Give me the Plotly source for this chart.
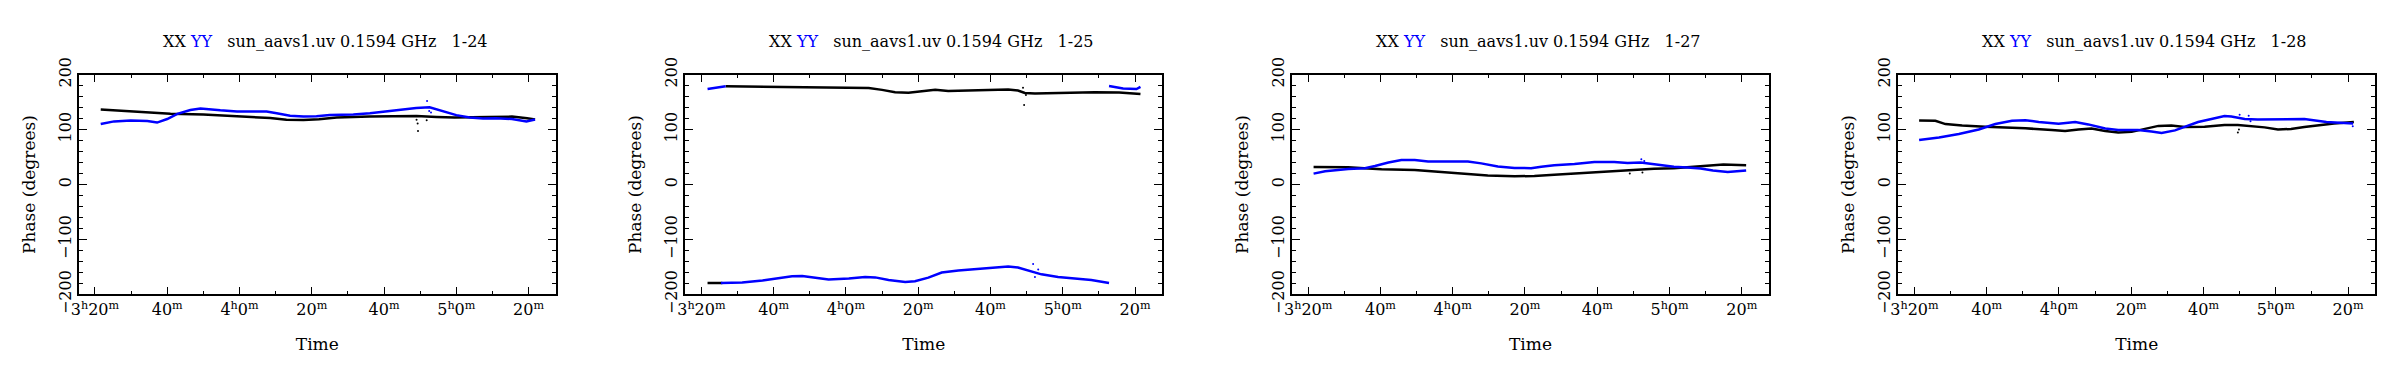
import plotly.graph_objects as go
from plotly.subplots import make_subplots

# time in minutes since 0h, phase in degrees
baselines = ["1-24", "1-25", "1-27", "1-28"]

# ---- 1-24
t24_xx = [201.6, 210, 220.9, 230, 239.3, 248.5, 253, 257.7, 262, 266.9, 276, 285.3, 289, 294.5, 299.5, 309, 315.4, 319.6, 321.8]
p24_xx = [136.7, 133, 129, 127.4, 124.7, 120.9, 118, 117.6, 118.7, 122, 124, 125.2, 124.5, 123, 122, 123, 123.6, 120.4, 118.2]
t24_yy = [201.6, 205.3, 209.9, 214.5, 217.2, 220, 222.8, 226.4, 229.2, 232, 234.7, 239.3, 244.8, 247.5, 250.3, 254, 257.7,
          261.3, 265, 271.5, 276.1, 280.7, 285.3, 288.9, 292.6, 296.3, 300, 303.7, 307.4, 311, 315.4, 319.4, 321.8]
p24_yy = [110, 114.9, 116.5, 115.4, 112.7, 119.2, 128.5, 135.6, 138.3, 137.3, 135, 132.9, 133.4, 132.9, 129.6, 125.2, 123.6,
          124.2, 126.3, 127.4, 129.6, 132.9, 136.2, 139.4, 140.5, 134, 126.3, 122, 120.3, 120.5, 119.2, 114.8, 118.2]
o24_xx_t = [289.4, 289, 289.3, 291.8]
o24_xx_p = [97.4, 118, 111, 117]
o24_yy_t = [291.9, 292.5, 293]
o24_yy_p = [152, 134, 131]

# ---- 1-25 (phase wraps at +/-180)
t25_xx = [201.7, 205.8, None, 206.7, 220.5, 229.7, 238.9, 246.3, 250, 253.6, 257.3, 261, 264.7, 268.3, 273.9, 279.4, 284.9,
          287.6, 289.5, 292.3, 298.7, 302.9, 308.8, 315.6, 321.5]
p25_xx = [-179.3, -179.3, None, 178.7, 177.6, 176.5, 176.5, 175.5, 172.2, 167.8, 167.2, 169.4, 172.2, 170, 171.1, 172.7, 172.7,
          171.1, 166.7, 165.6, 166.7, 167.3, 167.8, 167.3, 164.5]
t25_yy = [201.7, 204, 206.7, None, 205.4, 211.3, 216.9, 220.5, 225.1, 227.9, 231.6, 235.2, 240.8, 245.3, 248.1, 251.8, 256.4,
          259.1, 262.8, 266.5, 271.1, 275.7, 280.3, 284.9, 287.6, 290.4, 294.1, 298.7, 303.3, 307.9, 312.8, None,
          312.8, 316.7, 320.4, 321.5]
p25_yy = [173.8, 176, 178.7, None, -179.3, -178.2, -174.4, -171.1, -166.7, -166.2, -168.9, -172.7, -171.1, -168.3, -168.9,
          -173.8, -177.1, -176, -169.4, -160.2, -156.3, -153.6, -150.9, -149.3, -150.9, -156.3, -163.4, -168.3, -171.1,
          -173.8, -179.3, None, 179.3, 174.9, 173.8, 177.6]
o25_xx_t = [289.3, 289, 289.8]
o25_xx_p = [144.9, 176, 163]
o25_yy_t = [291.8, 293.2, 292.3]
o25_yy_p = [-144.4, -154.7, -168.3]

# ---- 1-27
t27_xx = [201.5, 211.1, 216.6, 220.3, 229.5, 238.7, 244.2, 249.7, 257.1, 262.6, 268.1, 273.7, 279.2, 284.7, 290.2, 295.7,
          301.2, 306.8, 314.9, 321.2]
p27_xx = [31.9, 31.4, 29.2, 27.6, 26.5, 22.6, 19.4, 16.6, 15, 15.6, 17.7, 19.9, 22.1, 25.4, 27.6, 28.7, 29.7, 32.5, 36.3, 35.2]
t27_yy = [201.5, 204.7, 211.1, 215.7, 218.5, 222.2, 225.8, 229.5, 233.2, 238.7, 244.2, 247.9, 252.5, 257.1, 261.7, 264.5,
          268.1, 273.7, 279.2, 284.7, 288.4, 292, 295.7, 301.2, 304.9, 308.6, 312, 316.1, 321.2]
p27_yy = [19.9, 24.3, 28.1, 29.7, 33.6, 40.1, 44.5, 44.5, 41.7, 41.2, 41.7, 38.5, 33, 30.3, 29.7, 32.5, 35.2, 37.4, 41.2,
          41.2, 39, 40.1, 36.8, 32.5, 30.8, 29.2, 25.4, 22.9, 25.6]
o27_xx_t = [289, 292.5]
o27_xx_p = [20, 22]
o27_yy_t = [292.2, 293]
o27_yy_p = [45.8, 43]

# ---- 1-28
t28_xx = [201.3, 205.8, 208.6, 213.2, 219.6, 225.2, 230.7, 238, 241.7, 245.4, 249, 252.8, 256.4, 260.1, 263.8, 267.5, 271.1,
          274.8, 280.3, 285.8, 289.5, 293.2, 296.9, 300.6, 304.2, 307.9, 310.6, 316.1, 321.6]
p28_xx = [116.5, 116, 110, 107.2, 105.1, 104, 102.3, 99.1, 97.4, 100.1, 101.8, 97.4, 94.7, 95.8, 101.8, 106.7, 107.2, 104.5,
          105.1, 108.3, 108.3, 106.7, 104, 100.1, 101.2, 104.5, 107, 111.1, 113.7]
t28_yy = [201.3, 206.8, 212.3, 217.8, 222.4, 227, 230.7, 234.4, 239.9, 244.5, 248.1, 252.8, 256.4, 261.9, 265.6, 268.4, 272.1,
          274.8, 278.5, 282.2, 285.8, 287.7, 291.4, 295, 302.4, 307.9, 314, 321.4]
p28_yy = [81, 85.4, 92, 100.1, 110, 116, 117.1, 113.8, 110.5, 113.8, 109.4, 101.8, 99.1, 99.1, 96.3, 93.6, 98.5, 105.1, 113.8,
          119.2, 124.7, 123.6, 119.2, 118.2, 118.2, 119.2, 113.7, 111]
o28_xx_t = [289.5, 289.8]
o28_xx_p = [94.7, 100]
o28_yy_t = [290, 292.5, 293, 321.3]
o28_yy_p = [127, 125, 115, 106]

time_ticks = [200, 220, 240, 260, 280, 300, 320]
time_labels = ["3<sup>h</sup>20<sup>m</sup>", "40<sup>m</sup>", "4<sup>h</sup>0<sup>m</sup>", "20<sup>m</sup>",
               "40<sup>m</sup>", "5<sup>h</sup>0<sup>m</sup>", "20<sup>m</sup>"]
phase_ticks = [-200, -100, 0, 100, 200]

panels = [
    (t24_xx, p24_xx, t24_yy, p24_yy, o24_xx_t, o24_xx_p, o24_yy_t, o24_yy_p),
    (t25_xx, p25_xx, t25_yy, p25_yy, o25_xx_t, o25_xx_p, o25_yy_t, o25_yy_p),
    (t27_xx, p27_xx, t27_yy, p27_yy, o27_xx_t, o27_xx_p, o27_yy_t, o27_yy_p),
    (t28_xx, p28_xx, t28_yy, p28_yy, o28_xx_t, o28_xx_p, o28_yy_t, o28_yy_p),
]

W, H = 2389, 380
FONT = "DejaVu Serif"
BLUE = "#0000ff"

fig = make_subplots(rows=1, cols=4)

lefts = [63.1, 671.6, 1280.4, 1888.7]
pw = 478.4

for i, (txx, pxx, tyy, pyy, oxt, oxp, oyt, oyp) in enumerate(panels):
    col = i + 1
    fig.add_trace(go.Scatter(x=txx, y=pxx, mode="lines", line=dict(color="black", width=2.5),
                             connectgaps=False, showlegend=False), row=1, col=col)
    fig.add_trace(go.Scatter(x=tyy, y=pyy, mode="lines", line=dict(color=BLUE, width=2.5),
                             connectgaps=False, showlegend=False), row=1, col=col)
    fig.add_trace(go.Scatter(x=oxt, y=oxp, mode="markers", marker=dict(color="black", size=2),
                             showlegend=False), row=1, col=col)
    fig.add_trace(go.Scatter(x=oyt, y=oyp, mode="markers", marker=dict(color=BLUE, size=2),
                             showlegend=False), row=1, col=col)

    x0 = lefts[i] / W
    x1 = (lefts[i] + pw) / W
    fig.update_xaxes(domain=[x0, x1], range=[195.56, 327.5], tickvals=time_ticks, ticktext=time_labels,
                     ticks="inside", ticklen=8, tickwidth=1, tickcolor="black",
                     minor=dict(dtick=10, tick0=0, ticks="inside", ticklen=4, tickcolor="black"),
                     showline=True, linecolor="black", linewidth=1.5, mirror="ticks",
                     showgrid=False, zeroline=False,
                     title=dict(text="Time", standoff=20, font=dict(family=FONT, size=17, color="black")),
                     tickfont=dict(family=FONT, size=16, color="black"),
                     row=1, col=col)
    fig.update_yaxes(domain=[1 - 298.3 / H, 1 - 54 / H], range=[-200, 200], tickvals=phase_ticks,
                     ticks="inside", ticklen=8, tickwidth=1, tickcolor="black", tickangle=-90,
                     minor=dict(dtick=20, tick0=0, ticks="inside", ticklen=4, tickcolor="black"),
                     showline=True, linecolor="black", linewidth=1.5, mirror="ticks",
                     showgrid=False, zeroline=False,
                     title=dict(text="Phase (degrees)", standoff=16, font=dict(family=FONT, size=17, color="black")),
                     tickfont=dict(family=FONT, size=16, color="black"),
                     row=1, col=col)

    sp = "\u00a0"
    title = ("XX" + sp + "<span style='color:#0000ff'>YY</span>" + sp * 3 +
             "sun_aavs1.uv 0.1594 GHz" + sp * 3 + baselines[i])
    fig.add_annotation(text=title, x=(lefts[i] + pw / 2 + 8) / W, y=1 - 17.5 / H, xref="paper", yref="paper",
                       showarrow=False, xanchor="center", yanchor="middle",
                       font=dict(family=FONT, size=16, color="black"))

fig.update_layout(width=W, height=H, margin=dict(l=0, r=0, t=0, b=0),
                  paper_bgcolor="white", plot_bgcolor="white",
                  font=dict(family=FONT, color="black"))

fig.write_html("out.html")
